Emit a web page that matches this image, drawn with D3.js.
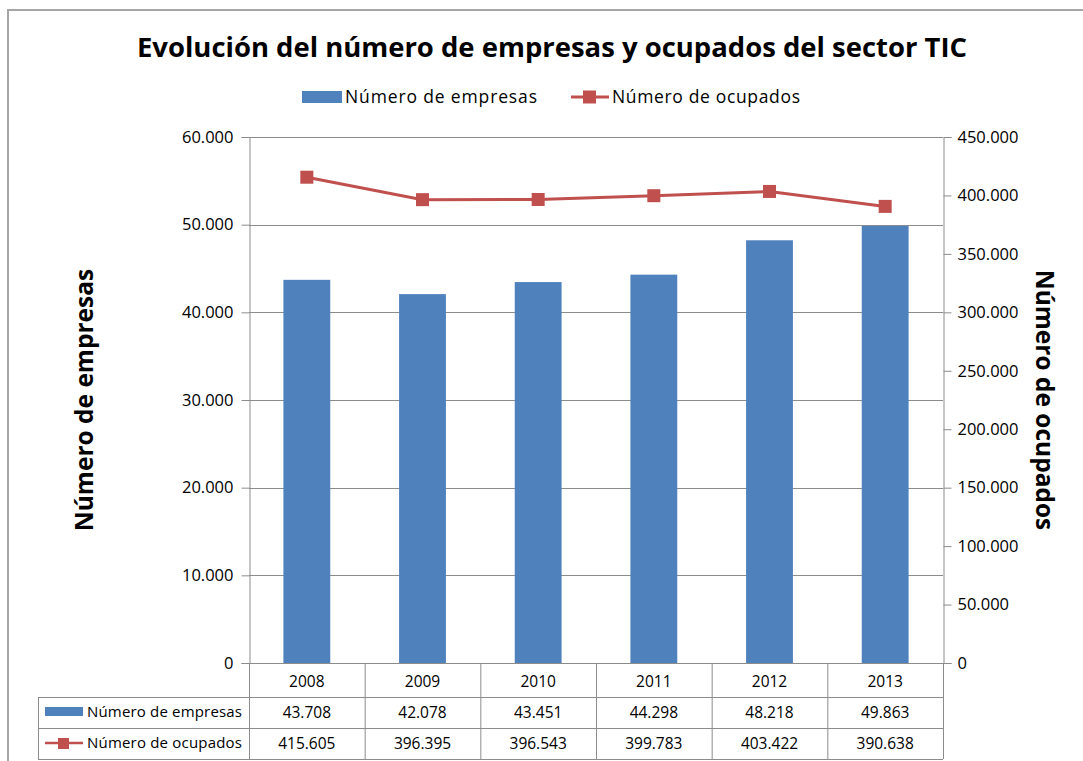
<!DOCTYPE html>
<html>
<head>
<meta charset="utf-8">
<script src="https://cdn.jsdelivr.net/npm/d3@7"></script>
<style>
  body { margin: 0; background: #fff; }
  text { font-family: "Open Sans", "Noto Sans", sans-serif; fill: #000; }
</style>
</head>
<body>
<div id="chart"></div>
<script>
const years = ["2008", "2009", "2010", "2011", "2012", "2013"];
const empresas = [43708, 42078, 43451, 44298, 48218, 49863];
const ocupados = [415605, 396395, 396543, 399783, 403422, 390638];
const leftTicks = [0, 10000, 20000, 30000, 40000, 50000, 60000];
const rightTicks = [0, 50000, 100000, 150000, 200000, 250000, 300000, 350000, 400000, 450000];

const blue = "#4F81BD", red = "#C0504D", grid = "#8c8c8c";
const fmt = v => v === 0 ? "0" : d3.format(",")(v).replace(/,/g, ".");

const W = 1083, H = 761;
const plot = {left: 249, right: 943, top: 137, bottom: 663};
const rowH = [34, 31, 31];

const svg = d3.select("#chart").append("svg")
    .attr("width", W).attr("height", H);

// chart frame (only top & left visible in the crop)
svg.append("path")
    .attr("d", "M8,761 V10 H1083")
    .attr("fill", "none").attr("stroke", "#a6a6a6").attr("stroke-width", 2);

svg.append("text")
    .attr("x", 552).attr("y", 57)
    .attr("text-anchor", "middle")
    .style("font-size", "26px").style("font-weight", "bold")
    .attr("textLength", 830).attr("lengthAdjust", "spacingAndGlyphs")
    .text("Evolución del número de empresas y ocupados del sector TIC");

const x = d3.scaleBand().domain(years).range([plot.left, plot.right]).paddingInner(0.595).paddingOuter(0.2975);
const xc = d3.scaleBand().domain(years).range([plot.left, plot.right]);
const yL = d3.scaleLinear().domain([0, 60000]).range([plot.bottom, plot.top]);
const yR = d3.scaleLinear().domain([0, 450000]).range([plot.bottom, plot.top]);

// gridlines
svg.append("g").selectAll("line").data(leftTicks).join("line")
    .attr("x1", plot.left).attr("x2", plot.right)
    .attr("y1", d => Math.round(yL(d)) + 0.5).attr("y2", d => Math.round(yL(d)) + 0.5)
    .attr("stroke", grid);

// bars
svg.append("g").selectAll("rect").data(empresas).join("rect")
    .attr("x", (d, i) => x(years[i]))
    .attr("width", x.bandwidth())
    .attr("y", d => yL(d))
    .attr("height", d => yL(0) - yL(d))
    .attr("fill", blue);

// axes
const axL = svg.append("g").attr("transform", `translate(${plot.left + 0.5},0)`)
    .call(d3.axisLeft(yL).tickValues(leftTicks).tickFormat(fmt).tickSize(8).tickPadding(8));
const axR = svg.append("g").attr("transform", `translate(${plot.right + 0.5},0)`)
    .call(d3.axisRight(yR).tickValues(rightTicks).tickFormat(fmt).tickSize(8).tickPadding(6));
[axL, axR].forEach(a => {
    a.select(".domain").attr("stroke", grid);
    a.selectAll(".tick line").attr("stroke", grid);
    a.selectAll("text").style("font-size", "16.5px").attr("fill", "#000")
        .style("font-family", "\"Open Sans\", sans-serif");
});

// line series
const line = d3.line().x((d, i) => xc(years[i]) + xc.bandwidth() / 2).y(d => yR(d));
svg.append("path").datum(ocupados)
    .attr("d", line).attr("fill", "none")
    .attr("stroke", red).attr("stroke-width", 3);
svg.append("g").selectAll("rect").data(ocupados).join("rect")
    .attr("x", (d, i) => xc(years[i]) + xc.bandwidth() / 2 - 6.5)
    .attr("y", d => yR(d) - 6.5)
    .attr("width", 13).attr("height", 13)
    .attr("fill", red);

// axis titles
svg.append("text")
    .attr("transform", `translate(93,${(plot.top + plot.bottom) / 2}) rotate(-90)`)
    .attr("text-anchor", "middle")
    .style("font-size", "24.5px").style("font-weight", "bold")
    .text("Número de empresas");
svg.append("text")
    .attr("transform", `translate(1036,${(plot.top + plot.bottom) / 2}) rotate(90)`)
    .attr("text-anchor", "middle")
    .style("font-size", "24.5px").style("font-weight", "bold")
    .text("Número de ocupados");

// legend
const leg = svg.append("g").style("font-size", "17.5px");
leg.append("rect").attr("x", 302).attr("y", 91).attr("width", 40).attr("height", 12).attr("fill", blue);
leg.append("text").attr("x", 345).attr("y", 103).attr("textLength", 192).text("Número de empresas");
leg.append("line").attr("x1", 571).attr("x2", 609).attr("y1", 97).attr("y2", 97)
    .attr("stroke", red).attr("stroke-width", 3);
leg.append("rect").attr("x", 583).attr("y", 90.5).attr("width", 13).attr("height", 13).attr("fill", red);
leg.append("text").attr("x", 612).attr("y", 103).attr("textLength", 188).text("Número de ocupados");

// data table
const tTop = plot.bottom, r1 = tTop + rowH[0], r2 = r1 + rowH[1], r3 = r2 + rowH[2];
const tLeft = 38;
const tbl = svg.append("g").attr("stroke", grid).attr("fill", "none");
[r1, r2, r3].forEach(yy => tbl.append("line")
    .attr("x1", tLeft).attr("x2", plot.right).attr("y1", yy + 0.5).attr("y2", yy + 0.5));
tbl.append("line").attr("x1", tLeft + 0.5).attr("x2", tLeft + 0.5).attr("y1", r1).attr("y2", r3);
years.concat(["end"]).forEach((yv, i) => {
    const xx = i < years.length ? xc(yv) : plot.right;
    tbl.append("line").attr("x1", xx + 0.5).attr("x2", xx + 0.5).attr("y1", tTop).attr("y2", r3);
});

const cellText = svg.append("g").style("font-size", "15.5px").attr("text-anchor", "middle");
cellText.selectAll(".yr").data(years).join("text")
    .attr("x", d => xc(d) + xc.bandwidth() / 2).attr("y", tTop + 24).text(d => d);
cellText.selectAll(".v1").data(empresas).join("text")
    .attr("x", (d, i) => xc(years[i]) + xc.bandwidth() / 2).attr("y", r1 + 21).text(fmt);
cellText.selectAll(".v2").data(ocupados).join("text")
    .attr("x", (d, i) => xc(years[i]) + xc.bandwidth() / 2).attr("y", r2 + 21).text(fmt);

const rowLab = svg.append("g").style("font-size", "15px");
rowLab.append("rect").attr("x", 45).attr("y", r1 + 10).attr("width", 38).attr("height", 9).attr("fill", blue);
rowLab.append("text").attr("x", 87).attr("y", r1 + 20).attr("textLength", 155).text("Número de empresas");
rowLab.append("line").attr("x1", 45).attr("x2", 83).attr("y1", r2 + 15).attr("y2", r2 + 15)
    .attr("stroke", red).attr("stroke-width", 2.5);
rowLab.append("rect").attr("x", 58).attr("y", r2 + 10).attr("width", 11).attr("height", 11).attr("fill", red);
rowLab.append("text").attr("x", 87).attr("y", r2 + 20).attr("textLength", 155).text("Número de ocupados");
</script>
</body>
</html>
